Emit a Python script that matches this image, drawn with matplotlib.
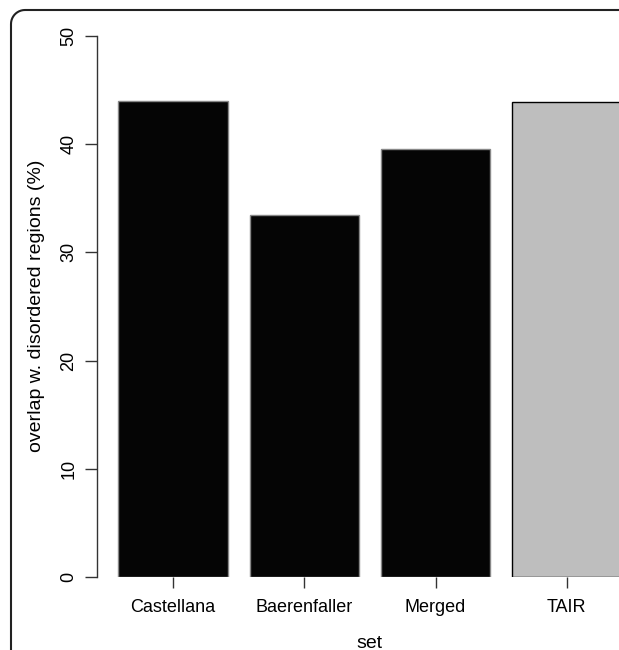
import matplotlib
matplotlib.use("Agg")
import numpy as np
import matplotlib.pyplot as plt
from matplotlib.lines import Line2D

categories = ["Castellana", "Baerenfaller", "Merged", "TAIR"]
values = [44.0, 33.45, 39.55, 43.9]
colors = ["#050505", "#050505", "#050505", "#BEBEBE"]
edgecolors = ["#888888", "#888888", "#888888", "#000000"]
yticks = [0, 10, 20, 30, 40, 50]

plt.rcParams['font.family'] = ['Liberation Sans', 'DejaVu Sans']

W, H = 619, 650
fig = plt.figure(figsize=(W / 100, H / 100), dpi=100)

left_px, right_px, top_px, bottom_px = 97, 619, 36, 577
ax = fig.add_axes([left_px / W, (H - bottom_px) / H,
                   (right_px - left_px) / W, (bottom_px - top_px) / H])

centers = [0.7 + 1.2 * i for i in range(len(categories))]
ax.bar(centers, values, width=1.0, color=colors, edgecolor=edgecolors,
       linewidth=1.0)

ax.set_ylim(0, 50)
ax.set_xlim(0.005, 4.777)

for s in ["top", "right", "bottom"]:
    ax.spines[s].set_visible(False)
ax.spines["left"].set_color("#333333")
ax.spines["left"].set_linewidth(1.0)

ax.set_yticks(yticks)
ax.set_yticklabels([str(v) for v in yticks], rotation=90, va="center")
ax.tick_params(axis="y", length=9, width=1.0, color="#333333", pad=5,
               labelsize=13)
ax.set_xticks(centers)
ax.set_xticklabels(categories)
ax.tick_params(axis="x", length=8, width=1.0, color="#333333", pad=8,
               labelsize=13)

fig.text(369 / W, 2.5 / H, "set", fontsize=14, ha="center", va="baseline")
fig.text(37 / W, (H - 306) / H, "overlap w. disordered regions (%)",
         fontsize=14, rotation=90, ha="center", va="center")

# outer frame with rounded top-left corner, cropped at right and bottom
r = 14.0
x0, ytop = 11.0, H - 10.0
t = np.linspace(np.pi, np.pi / 2, 12)
fx = np.concatenate([[x0], x0 + r + r * np.cos(t), [W + 40]]) / W
fy = np.concatenate([[-20], ytop - r + r * np.sin(t), [ytop]]) / H
fig.add_artist(Line2D(fx, fy, transform=fig.transFigure, color="#222222",
                      linewidth=1.5, clip_on=False))

fig.savefig("out.png", dpi=100)
